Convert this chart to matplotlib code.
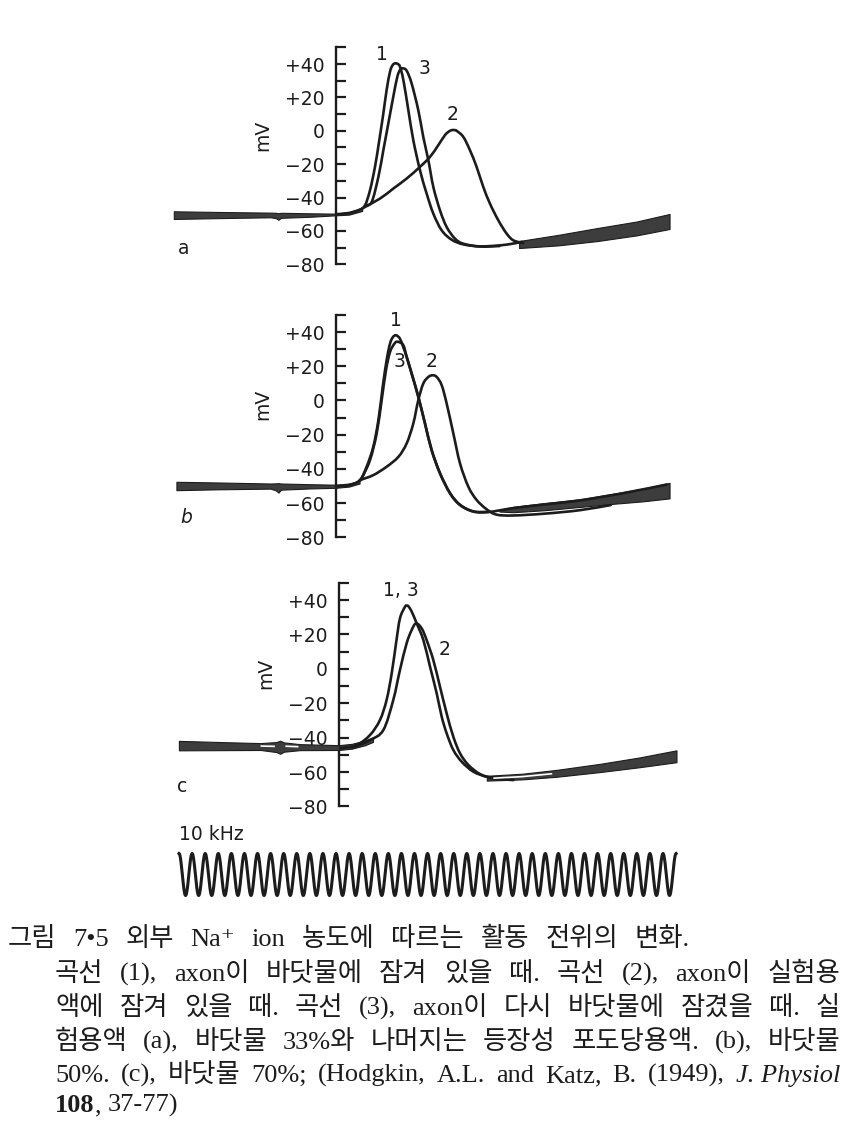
import numpy as np
import matplotlib
matplotlib.use("Agg")
import matplotlib.pyplot as plt
from matplotlib.path import Path
from matplotlib.patches import PathPatch

# ---------------- data (time in ms from the voltage axis, potential in mV) ----------------
MAJOR_TICKS = [40, 20, 0, -20, -40, -60, -80]
MAJOR_LABELS = ["+40", "+20", "0", "\u221220", "\u221240", "\u221260", "\u221280"]
MINOR_TICKS = [50, 30, 10, -10, -30, -50, -70]

# panel a : 33 % sea water
A_BASE_T = [-1.24, -0.90, -0.50, -0.46, -0.44, -0.42, -0.20, 0.00, 0.10, 0.20]
A_BASE_TOP = [-48.2, -48.6, -49.0, -49.1, -49.4, -49.1, -49.4, -49.6, -48.6, -46.0]
A_BASE_BOT = [-52.8, -52.3, -51.8, -52.3, -53.3, -52.1, -51.5, -50.6, -50.2, -48.0]
A_CURVE1_T = [0.00, 0.10, 0.18, 0.222, 0.26, 0.298, 0.331, 0.362, 0.387, 0.413, 0.432, 0.451, 0.470,
              0.489, 0.515, 0.553, 0.591, 0.642, 0.693, 0.744, 0.808, 0.884, 0.973, 1.101, 1.254, 1.356, 1.42]
A_CURVE1_MV = [-50.0, -49.2, -47.3, -44.6, -35.6, -21.6, -5.6, 10.4, 24.4, 35.4, 39.2, 40.4, 40.1,
               38.4, 30.4, 12.4, -5.6, -23.6, -37.6, -49.6, -59.6, -65.2, -68.0, -69.2, -68.6, -67.5, -66.5]
A_CURVE3_T = [0.222, 0.273, 0.324, 0.362, 0.400, 0.438, 0.469, 0.490, 0.510, 0.540, 0.578, 0.629, 0.667,
              0.706, 0.744, 0.795, 0.846, 0.910, 0.973, 1.101, 1.25]
A_CURVE3_MV = [-44.6, -42.6, -27.6, -11.6, 4.4, 20.4, 32.4, 36.5, 37.4, 36.0, 28.4, 12.4, -3.6,
               -17.6, -33.6, -47.6, -57.6, -64.6, -67.6, -69.3, -69.0]
A_CURVE2_T = [0.20, 0.336, 0.438, 0.540, 0.642, 0.719, 0.782, 0.833, 0.860, 0.884, 0.905, 0.922, 0.973,
              1.024, 1.075, 1.126, 1.177, 1.241, 1.305, 1.356, 1.432]
A_CURVE2_MV = [-46.5, -40.6, -34.6, -28.6, -21.6, -15.6, -8.6, -2.6, -0.6, 0.4, 0.4, 0.0, -3.6,
               -11.6, -21.6, -33.6, -43.6, -53.6, -61.6, -65.6, -67.2]
A_BAND_T = [1.40, 1.70, 2.00, 2.30, 2.55]
A_BAND_TOP = [-66.0, -62.3, -58.2, -54.3, -49.8]
A_BAND_BOT = [-70.2, -68.6, -66.0, -62.6, -58.8]

# panel b : 50 % sea water
B_BASE_T = [-1.22, -0.90, -0.50, -0.46, -0.44, -0.42, -0.20, 0.00, 0.10, 0.18]
B_BASE_TOP = [-47.6, -48.0, -48.6, -48.5, -48.4, -48.6, -49.0, -49.3, -48.6, -47.0]
B_BASE_BOT = [-52.5, -52.0, -51.6, -52.6, -53.9, -52.2, -51.5, -51.1, -50.4, -48.6]
B_CURVE1_T = [0.00, 0.10, 0.183, 0.234, 0.285, 0.324, 0.357, 0.387, 0.413, 0.435, 0.459, 0.489, 0.515,
              0.540, 0.578, 0.629, 0.680, 0.731, 0.795, 0.872, 0.948, 1.050, 1.164, 1.356, 1.600, 1.865,
              2.200, 2.528]
B_CURVE1_MV = [-50.2, -49.5, -46.6, -38.8, -27.1, -11.6, 7.9, 23.5, 33.2, 37.0, 38.1, 36.1, 31.0,
               25.4, 15.7, 2.1, -13.5, -29.1, -42.7, -54.4, -61.2, -65.0, -65.3, -63.0, -60.8, -58.5,
               -54.2, -49.2]
B_CURVE3_T = [0.183, 0.196, 0.260, 0.311, 0.349, 0.382, 0.413, 0.451, 0.477, 0.515, 0.540, 0.578, 0.629,
              0.680, 0.731, 0.795, 0.872, 0.948, 1.050, 1.164]
B_CURVE3_MV = [-46.6, -45.6, -34.9, -19.3, 0.1, 17.6, 28.3, 33.6, 34.2, 32.2, 25.6, 15.9, 2.3,
               -13.3, -28.9, -42.5, -54.2, -61.0, -64.9, -65.2]
B_CURVE2_T = [0.183, 0.285, 0.387, 0.477, 0.540, 0.591, 0.629, 0.667, 0.706, 0.739, 0.770, 0.808, 0.846,
              0.897, 0.948, 1.012, 1.075, 1.152, 1.228, 1.356, 1.600, 1.865, 2.100]
B_CURVE2_MV = [-46.6, -43.7, -38.8, -33.0, -25.2, -13.5, 0.1, 9.8, 13.7, 14.7, 13.7, 8.9, -1.8,
               -19.3, -36.8, -50.5, -58.2, -63.7, -66.8, -67.3, -66.2, -64.2, -61.2]
B_BAND_T = [1.25, 1.356, 1.60, 1.865, 2.10, 2.35, 2.55]
B_BAND_TOP = [-64.0, -62.2, -60.0, -57.8, -54.8, -51.6, -48.2]
B_BAND_BOT = [-65.0, -65.4, -64.2, -62.3, -60.6, -59.0, -57.3]

# panel c : 70 % sea water
C_BASE_T = [-1.224, -0.90, -0.60, -0.48, -0.45, -0.42, -0.30, 0.00, 0.10, 0.20, 0.26]
C_BASE_TOP = [-41.9, -42.6, -43.2, -42.6, -41.8, -42.8, -43.8, -44.4, -43.6, -41.6, -39.8]
C_BASE_BOT = [-47.4, -47.3, -47.2, -48.4, -49.4, -48.2, -47.3, -47.2, -46.4, -44.4, -42.5]
C_GAP1_T, C_GAP1_MV = [-0.60, -0.49], [-44.9, -45.1]
C_GAP2_T, C_GAP2_MV = [-0.41, -0.31], [-45.0, -45.3]
C_CURVE13_T = [0.008, 0.135, 0.237, 0.313, 0.364, 0.403, 0.436, 0.466, 0.505, 0.517, 0.530, 0.556,
               0.594, 0.645, 0.696, 0.747, 0.785, 0.823, 0.874, 0.938, 1.027, 1.129, 1.231]
C_CURVE13_MV = [-46.2, -44.3, -38.5, -29.8, -18.1, -2.6, 14.8, 29.3, 36.1, 36.7, 36.4, 33.2,
                26.4, 16.7, 1.2, -14.3, -27.8, -37.5, -47.2, -54.0, -59.8, -62.7, -63.4]
C_CURVE2_T = [0.10, 0.237, 0.339, 0.415, 0.466, 0.517, 0.556, 0.589, 0.632, 0.670, 0.721, 0.772,
              0.823, 0.874, 0.925, 0.989, 1.078, 1.180, 1.333]
C_CURVE2_MV = [-46.0, -41.5, -35.6, -18.1, -0.7, 14.8, 22.6, 26.4, 23.5, 16.7, 5.1, -10.4,
               -25.9, -39.5, -49.1, -55.9, -61.2, -63.7, -64.7]
C_BAND_T = [1.13, 1.40, 1.66, 2.00, 2.30, 2.58]
C_BAND_TOP = [-62.2, -61.0, -58.8, -55.2, -51.5, -47.4]
C_BAND_BOT = [-65.0, -64.3, -62.8, -60.0, -57.2, -54.3]
C_GAP3_T, C_GAP3_MV = [1.18, 1.40, 1.63], [-63.6, -62.7, -61.0]

# 10 kHz time marker
CAL_FREQ_KHZ = 10.0
CAL_T_START = -1.20
CAL_T_END = 2.60

CURVE_LABELS_A = [("1", 0.349, 45.4), ("3", 0.673, 37.6), ("2", 0.892, 9.5)]
CURVE_LABELS_B = [("1", 0.459, 46.6), ("3", 0.484, 22.6), ("2", 0.732, 22.6)]
CURVE_LABELS_C = [("1, 3", 0.474, 45.4), ("2", 0.810, 11.3)]

# ---------------- figure ----------------
W, H, DPI = 867, 1127, 100
PX_PER_MS = 130.8
INK = "#1c1c1c"
BAND = "#3d3d3d"
YMIN, YMAX = -95, 60

fig = plt.figure(figsize=(W / DPI, H / DPI), dpi=DPI)
fig.patch.set_facecolor("white")


def make_panel(axis_px, y40_px, k):
    top_px = y40_px + (40 - YMAX) * k
    bot_px = y40_px + (40 - YMIN) * k
    ax = fig.add_axes([0, 1 - bot_px / H, 1, (bot_px - top_px) / H])
    ax.set_xlim(-axis_px / PX_PER_MS, (W - axis_px) / PX_PER_MS)
    ax.set_ylim(YMIN, YMAX)
    ax.patch.set_alpha(0)
    for s in ["top", "right", "bottom"]:
        ax.spines[s].set_visible(False)
    ax.spines["left"].set_position(("data", 0))
    ax.spines["left"].set_bounds(-80, 50)
    ax.spines["left"].set_linewidth(1.7)
    ax.spines["left"].set_color(INK)
    ax.set_xticks([])
    ax.set_yticks(MAJOR_TICKS, labels=MAJOR_LABELS)
    ax.set_yticks(MINOR_TICKS, minor=True)
    ax.tick_params(axis="y", which="both", direction="in", length=7.5, width=1.6, color=INK)
    ax.tick_params(axis="y", which="major", labelsize=13.5, pad=8, labelcolor=INK)
    for lab in ax.get_yticklabels():
        lab.set_family("DejaVu Sans")
    ax.text(-0.56, -2.5, "mV", rotation=90, ha="center", va="center", fontsize=13.5, color=INK)
    return ax


def band(ax, t, top, bot):
    ax.fill_between(t, bot, top, facecolor=BAND, edgecolor=INK, linewidth=0.8, zorder=3)


def curve(ax, t, v, lw=1.9):
    # smooth (Catmull-Rom -> cubic Bezier) rendering through the read points
    p = np.column_stack([t, v]).astype(float)
    n = len(p)
    verts = [p[0]]
    codes = [Path.MOVETO]
    for i in range(n - 1):
        p0 = p[i - 1] if i > 0 else p[i]
        p3 = p[i + 2] if i + 2 < n else p[i + 1]
        c1 = p[i] + (p[i + 1] - p0) / 6.0
        c2 = p[i + 1] - (p3 - p[i]) / 6.0
        verts += [c1, c2, p[i + 1]]
        codes += [Path.CURVE4, Path.CURVE4, Path.CURVE4]
    patch = PathPatch(Path(verts, codes), fill=False, edgecolor=INK, lw=lw,
                      capstyle="round", joinstyle="round", zorder=4)
    ax.add_patch(patch)


def gap(ax, t, v):
    ax.plot(t, v, color="white", lw=1.2, solid_capstyle="butt", zorder=5)


def labels(ax, items):
    for s, t, v in items:
        ax.text(t, v, s, ha="center", va="center", fontsize=13.5, color=INK)


# panel a
ax_a = make_panel(336, 64, 1.67)
band(ax_a, A_BASE_T, A_BASE_TOP, A_BASE_BOT)
curve(ax_a, A_CURVE1_T, A_CURVE1_MV)
curve(ax_a, A_CURVE3_T, A_CURVE3_MV)
curve(ax_a, A_CURVE2_T, A_CURVE2_MV)
band(ax_a, A_BAND_T, A_BAND_TOP, A_BAND_BOT)
labels(ax_a, CURVE_LABELS_A)
ax_a.text(-1.162, -70.6, "a", ha="center", va="center", fontsize=13.5, color=INK)

# panel b
ax_b = make_panel(336, 332, 1.71)
band(ax_b, B_BASE_T, B_BASE_TOP, B_BASE_BOT)
curve(ax_b, B_CURVE1_T, B_CURVE1_MV)
curve(ax_b, B_CURVE3_T, B_CURVE3_MV)
curve(ax_b, B_CURVE2_T, B_CURVE2_MV)
band(ax_b, B_BAND_T, B_BAND_TOP, B_BAND_BOT)
labels(ax_b, CURVE_LABELS_B)
ax_b.text(-1.148, -68.2, "b", ha="center", va="center", fontsize=13.5, style="italic", color=INK)

# panel c
ax_c = make_panel(339, 600, 1.72)
band(ax_c, C_BASE_T, C_BASE_TOP, C_BASE_BOT)
gap(ax_c, C_GAP1_T, C_GAP1_MV)
gap(ax_c, C_GAP2_T, C_GAP2_MV)
curve(ax_c, C_CURVE13_T, C_CURVE13_MV)
curve(ax_c, C_CURVE2_T, C_CURVE2_MV)
band(ax_c, C_BAND_T, C_BAND_TOP, C_BAND_BOT)
gap(ax_c, C_GAP3_T, C_GAP3_MV)
labels(ax_c, CURVE_LABELS_C)
ax_c.text(-1.197, -68.7, "c", ha="center", va="center", fontsize=13.5, color=INK)

# 10 kHz calibration trace
cal_top, cal_bot = 843, 906
ax_cal = fig.add_axes([0, 1 - cal_bot / H, 1, (cal_bot - cal_top) / H])
ax_cal.set_xlim(-336 / PX_PER_MS, (W - 336) / PX_PER_MS)
ax_cal.set_ylim(-1.5, 1.5)
ax_cal.axis("off")
tt = np.linspace(CAL_T_START, CAL_T_END, 4000)
ax_cal.plot(tt, np.cos(2 * np.pi * CAL_FREQ_KHZ * (tt - CAL_T_START)), color=INK, lw=2.2)
fig.text(179 / W, 1 - 834 / H, "10 kHz", ha="left", va="center", fontsize=13.5, color=INK,
         family="DejaVu Sans")

# ---------------- caption ----------------
CAP_FAMILY = ["Liberation Serif", "Noto Sans CJK KR", "DejaVu Serif"]
CAP_SIZE = 19
R, I, B = {"weight": 500}, {"style": "italic"}, {"weight": "bold"}

CAPTION = [
    # (x_start, x_end or None, baseline_px, tokens[(text, style, space_before)])
    (8, 690, 946, [("그림", R, 0), ("7•5", R, 1), ("외부", R, 1), ("Na⁺", R, 1), ("ion", R, 1),
                   ("농도에", R, 1), ("따르는", R, 1), ("활동", R, 1), ("전위의", R, 1), ("변화.", R, 1)]),
    (55, 840, 981, [("곡선", R, 0), ("(1),", R, 1), ("axon이", R, 1), ("바닷물에", R, 1), ("잠겨", R, 1),
                    ("있을", R, 1), ("때.", R, 1), ("곡선", R, 1), ("(2),", R, 1), ("axon이", R, 1),
                    ("실험용", R, 1)]),
    (55, 840, 1015, [("액에", R, 0), ("잠겨", R, 1), ("있을", R, 1), ("때.", R, 1), ("곡선", R, 1),
                     ("(3),", R, 1), ("axon이", R, 1), ("다시", R, 1), ("바닷물에", R, 1), ("잠겼을", R, 1),
                     ("때.", R, 1), ("실", R, 1)]),
    (55, 840, 1049, [("험용액", R, 0), ("(a),", R, 1), ("바닷물", R, 1), ("33%와", R, 1), ("나머지는", R, 1),
                     ("등장성", R, 1), ("포도당용액.", R, 1), ("(b),", R, 1), ("바닷물", R, 1)]),
    (55, 840, 1082, [("50%.", R, 0), ("(c),", R, 1), ("바닷물", R, 1), ("70%;", R, 1), ("(Hodgkin,", R, 1),
                     ("A.L.", R, 1), ("and", R, 1), ("Katz,", R, 1), ("B.", R, 1), ("(1949),", R, 1),
                     ("J. Physiol", I, 1)]),
    (55, None, 1112, [("108", B, 0), (",", R, 0), ("37-77)", R, 1)]),
]

renderer = fig.canvas.get_renderer()
for x0, x1, base, toks in CAPTION:
    arts = []
    for txt, sty, sp in toks:
        a = fig.text(0, 1 - base / H, txt, ha="left", va="baseline", fontsize=CAP_SIZE,
                     family=CAP_FAMILY, color=INK, **sty)
        arts.append(a)
    widths = [a.get_window_extent(renderer).width for a in arts]
    n_sp = sum(sp for _, _, sp in toks)
    if x1 is None or n_sp == 0:
        g = 7.0
    else:
        g = (x1 - x0 - sum(widths)) / n_sp
    x = x0
    for a, w, (_, _, sp) in zip(arts, widths, toks):
        x += g * sp
        a.set_x(x / W)
        x += w

fig.savefig("out.png", dpi=DPI, facecolor="white")
